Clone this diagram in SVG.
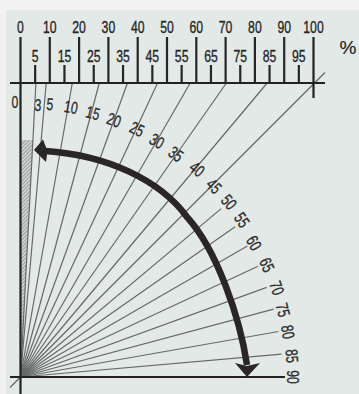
<svg xmlns="http://www.w3.org/2000/svg" width="359" height="394" viewBox="0 0 359 394">
<defs>
<style>
.t{font-family:"Liberation Sans",Arial,sans-serif;font-size:17px;fill:#262626;stroke:#262626;stroke-width:0.35;text-anchor:middle}
.r{font-family:"Liberation Sans",Arial,sans-serif;font-size:17px;fill:#2a2a2a;stroke:#2a2a2a;stroke-width:0.3;text-anchor:middle}
.ray{stroke:#686868;stroke-width:1.2;fill:none}
.tk{stroke:#262626;stroke-width:2.2;fill:none}
.ax{stroke:#222;stroke-width:2.2;fill:none}
.arc{stroke:#2b2626;stroke-width:6.5;fill:none;stroke-linecap:butt}
.head{fill:#2b2626}
</style>
<pattern id="hatch" width="2.6" height="2.6" patternUnits="userSpaceOnUse" patternTransform="rotate(45)">
<rect width="2.6" height="2.6" fill="#cfd5d3"/>
<line x1="0" y1="0" x2="0" y2="2.6" stroke="#6a6a6a" stroke-width="1"/>
</pattern>
</defs>
<rect width="359" height="394" fill="#f2f2f2"/>
<rect x="6" y="10" width="353" height="384" fill="#e2e9e7"/>

<g id="hatched-zone">
<polygon points="20.5,140 33,140 20.5,377" fill="url(#hatch)"/>
</g>

<g id="connectors">
<line class="ray" x1="20.5" y1="377" x2="35.9" y2="83"/>
<line class="ray" x1="20.5" y1="377" x2="46.2" y2="83"/>
<line class="ray" x1="20.5" y1="377" x2="72.3" y2="83"/>
<line class="ray" x1="20.5" y1="377" x2="99.3" y2="83"/>
<line class="ray" x1="20.5" y1="377" x2="127.5" y2="83"/>
<line class="ray" x1="20.5" y1="377" x2="157.6" y2="83"/>
<line class="ray" x1="20.5" y1="377" x2="190.2" y2="83"/>
<line class="ray" x1="20.5" y1="377" x2="226.4" y2="83"/>
<line class="ray" x1="20.5" y1="377" x2="267.2" y2="83"/>
<line class="ray" x1="10" y1="387.5" x2="325" y2="72.5"/>
<line class="ray" x1="20.5" y1="377" x2="221.2" y2="208.6"/>
<line class="ray" x1="20.5" y1="377" x2="235.1" y2="226.7"/>
<line class="ray" x1="20.5" y1="377" x2="247.4" y2="246"/>
<line class="ray" x1="20.5" y1="377" x2="258" y2="266.3"/>
<line class="ray" x1="20.5" y1="377" x2="266.7" y2="287.4"/>
<line class="ray" x1="20.5" y1="377" x2="273.6" y2="309.2"/>
<line class="ray" x1="20.5" y1="377" x2="278.5" y2="331.5"/>
<line class="ray" x1="20.5" y1="377" x2="281.5" y2="354.2"/>
</g>

<g id="axes">
<line class="ax" x1="20.5" y1="37" x2="20.5" y2="394"/>
<line class="ax" x1="10" y1="377" x2="285" y2="377"/>
<line class="ax" x1="10" y1="83" x2="325" y2="83"/>
<line class="ax" x1="313.5" y1="37" x2="313.5" y2="98"/>
</g>

<g id="scale-ticks">
<path class="tk" d="M49.8 37V83M79.1 37V83M108.4 37V83M137.7 37V83M167 37V83M196.3 37V83M225.6 37V83M254.9 37V83M284.2 37V83"/>
<path class="tk" d="M35.15 65V83M64.45 65V83M93.75 65V83M123.05 65V83M152.35 65V83M181.65 65V83M210.95 65V83M240.25 65V83M269.55 65V83M298.85 65V83"/>
</g>

<g id="scale-labels">
<text class="t" transform="translate(20.5,33) scale(0.72,1)">0</text>
<text class="t" transform="translate(49.8,33) scale(0.72,1)">10</text>
<text class="t" transform="translate(79.1,33) scale(0.72,1)">20</text>
<text class="t" transform="translate(108.4,33) scale(0.72,1)">30</text>
<text class="t" transform="translate(137.7,33) scale(0.72,1)">40</text>
<text class="t" transform="translate(167,33) scale(0.72,1)">50</text>
<text class="t" transform="translate(196.3,33) scale(0.72,1)">60</text>
<text class="t" transform="translate(225.6,33) scale(0.72,1)">70</text>
<text class="t" transform="translate(254.9,33) scale(0.72,1)">80</text>
<text class="t" transform="translate(284.2,33) scale(0.72,1)">90</text>
<text class="t" transform="translate(313.5,33) scale(0.72,1)">100</text>
<text class="t" transform="translate(35.15,62) scale(0.72,1)">5</text>
<text class="t" transform="translate(64.45,62) scale(0.72,1)">15</text>
<text class="t" transform="translate(93.75,62) scale(0.72,1)">25</text>
<text class="t" transform="translate(123.05,62) scale(0.72,1)">35</text>
<text class="t" transform="translate(152.35,62) scale(0.72,1)">45</text>
<text class="t" transform="translate(181.65,62) scale(0.72,1)">55</text>
<text class="t" transform="translate(210.95,62) scale(0.72,1)">65</text>
<text class="t" transform="translate(240.25,62) scale(0.72,1)">75</text>
<text class="t" transform="translate(269.55,62) scale(0.72,1)">85</text>
<text class="t" transform="translate(298.85,62) scale(0.72,1)">95</text>
<text class="t" x="348" y="54" style="font-size:19px;stroke-width:0.2">%</text>
</g>

<g id="angle-labels">
<text class="r" transform="translate(15,102) rotate(0) scale(0.72,1)" y="6">0</text>
<text class="r" transform="translate(38,105) rotate(3) scale(0.72,1)" y="6">3</text>
<text class="r" transform="translate(50,104) rotate(5) scale(0.72,1)" y="6">5</text>
<text class="r" transform="translate(71,107) rotate(10) scale(0.72,1)" y="6">10</text>
<text class="r" transform="translate(93,113) rotate(15) scale(0.72,1)" y="6">15</text>
<text class="r" transform="translate(114,120) rotate(20) scale(0.72,1)" y="6">20</text>
<text class="r" transform="translate(137,129) rotate(25) scale(0.72,1)" y="6">25</text>
<text class="r" transform="translate(157,141) rotate(30) scale(0.72,1)" y="6">30</text>
<text class="r" transform="translate(176,154) rotate(35) scale(0.72,1)" y="6">35</text>
<text class="r" transform="translate(197,169) rotate(40) scale(0.72,1)" y="6">40</text>
<text class="r" transform="translate(214,186) rotate(45) scale(0.72,1)" y="6">45</text>
<text class="r" transform="translate(229,202) rotate(50) scale(0.72,1)" y="6">50</text>
<text class="r" transform="translate(242,220) rotate(55) scale(0.72,1)" y="6">55</text>
<text class="r" transform="translate(254,243) rotate(60) scale(0.72,1)" y="6">60</text>
<text class="r" transform="translate(267,265) rotate(65) scale(0.72,1)" y="6">65</text>
<text class="r" transform="translate(277,288) rotate(70) scale(0.72,1)" y="6">70</text>
<text class="r" transform="translate(283,310) rotate(75) scale(0.72,1)" y="6">75</text>
<text class="r" transform="translate(288,332) rotate(80) scale(0.72,1)" y="6">80</text>
<text class="r" transform="translate(292,356) rotate(85) scale(0.72,1)" y="6">85</text>
<text class="r" transform="translate(293,377) rotate(90) scale(0.72,1)" y="6">90</text>
</g>

<g id="arrow">
<path class="arc" d="M45 151 C107 155 160 180 187 217 C217 250 240 318 247 365"/>
<polygon class="head" points="34,150 43,139.5 47.5,151 46,162"/>
<polygon class="head" points="235,363 247,366 260,363 247,377"/>
</g>
</svg>
